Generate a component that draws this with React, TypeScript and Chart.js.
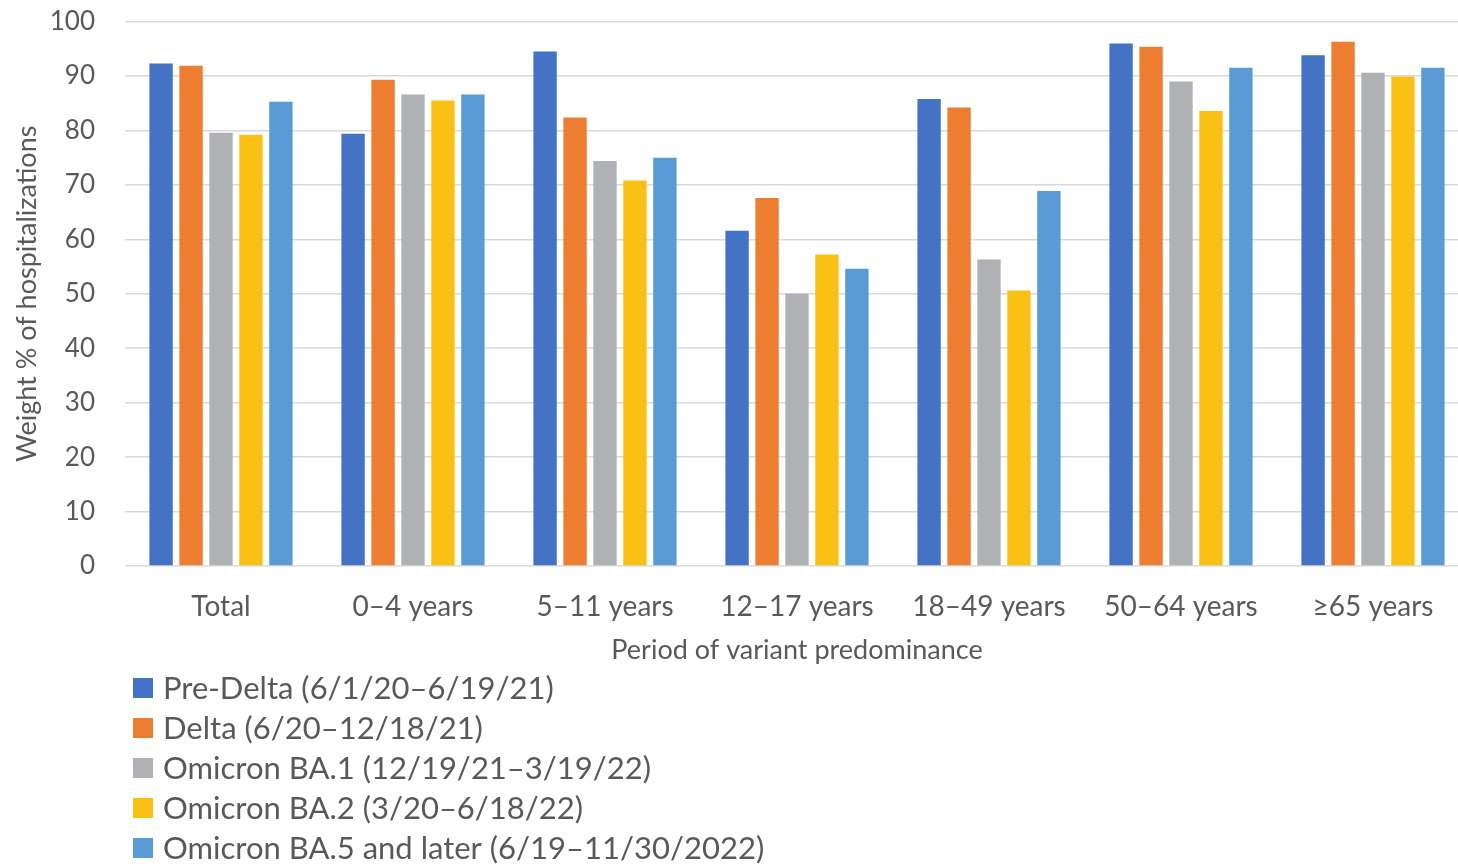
import React, { useEffect, useRef } from "react";
import { Chart, registerables } from "chart.js";

Chart.register(...registerables);

const categories = ["Total", "0–4 years", "5–11 years", "12–17 years", "18–49 years", "50–64 years", "≥65 years"];
const seriesNames = [
  "Pre-Delta (6/1/20–6/19/21)",
  "Delta (6/20–12/18/21)",
  "Omicron BA.1 (12/19/21–3/19/22)",
  "Omicron BA.2 (3/20–6/18/22)",
  "Omicron BA.5 and later (6/19–11/30/2022)",
];
const preDelta = [92.3, 79.4, 94.5, 61.6, 85.8, 96.0, 93.8];
const delta = [91.9, 89.3, 82.4, 67.6, 84.2, 95.4, 96.3];
const ba1 = [79.6, 86.6, 74.4, 50.0, 56.3, 89.0, 90.6];
const ba2 = [79.2, 85.5, 70.8, 57.2, 50.6, 83.6, 89.9];
const ba5 = [85.3, 86.6, 75.0, 54.6, 68.9, 91.5, 91.5];
const colors = ["#4472C4", "#ED7D31", "#B0B1B4", "#FBC014", "#5B9BD5"];
const yTitle = "Weight % of hospitalizations";
const xTitle = "Period of variant predominance";

const FONT = "Lato, 'Open Sans', sans-serif";
const TEXT = "#595959";

const legendPlugin = {
  id: "stackedLegend",
  afterDraw(chart: any) {
    const ctx = chart.ctx;
    ctx.save();
    ctx.font = `31px ${FONT}`;
    ctx.textBaseline = "middle";
    ctx.textAlign = "left";
    chart.data.datasets.forEach((ds: any, i: number) => {
      const cy = 688 + i * 40;
      ctx.fillStyle = ds.backgroundColor;
      ctx.fillRect(133, cy - 10, 20, 20);
      ctx.fillStyle = TEXT;
      ctx.fillText(ds.label, 163, cy + 1);
    });
    ctx.restore();
  },
};

export default function App() {
  const ref = useRef<HTMLCanvasElement>(null);
  useEffect(() => {
    document.body.style.margin = "0";
    document.body.style.overflow = "hidden";
    const data = [preDelta, delta, ba1, ba2, ba5];
    const chart = new Chart(ref.current!, {
      type: "bar",
      data: {
        labels: categories,
        datasets: data.map((d, i) => ({
          label: seriesNames[i],
          data: d,
          backgroundColor: colors[i],
          categoryPercentage: 0.78,
          barPercentage: 0.78,
        })),
      },
      plugins: [legendPlugin],
      options: {
        animation: false,
        responsive: false,
        layout: { padding: { top: 0, right: 0, bottom: 200, left: 0 } },
        plugins: { legend: { display: false }, tooltip: { enabled: false } },
        scales: {
          x: {
            grid: { display: false },
            border: { display: false },
            ticks: { color: TEXT, font: { family: FONT, size: 28 }, padding: 16, maxRotation: 0 },
            title: { display: true, text: xTitle, color: TEXT, font: { family: FONT, size: 27 }, padding: { top: 0, bottom: 0 } },
            afterFit: (s: any) => { s.height = 100; },
          },
          y: {
            min: 0,
            max: 100,
            ticks: { stepSize: 10, color: TEXT, font: { family: FONT, size: 26 }, padding: 6 },
            grid: { color: "#D9D9D9", lineWidth: 1.5, drawTicks: true, tickLength: 24, tickColor: "rgba(0,0,0,0)" },
            border: { display: false },
            title: { display: true, text: yTitle, color: TEXT, font: { family: FONT, size: 27 }, padding: { top: 11, bottom: 0 } },
            afterFit: (s: any) => { s.width = 125; },
          },
        },
      },
    });
    return () => chart.destroy();
  }, []);
  return <canvas ref={ref} width={1469} height={866} style={{ display: "block" }} />;
}
